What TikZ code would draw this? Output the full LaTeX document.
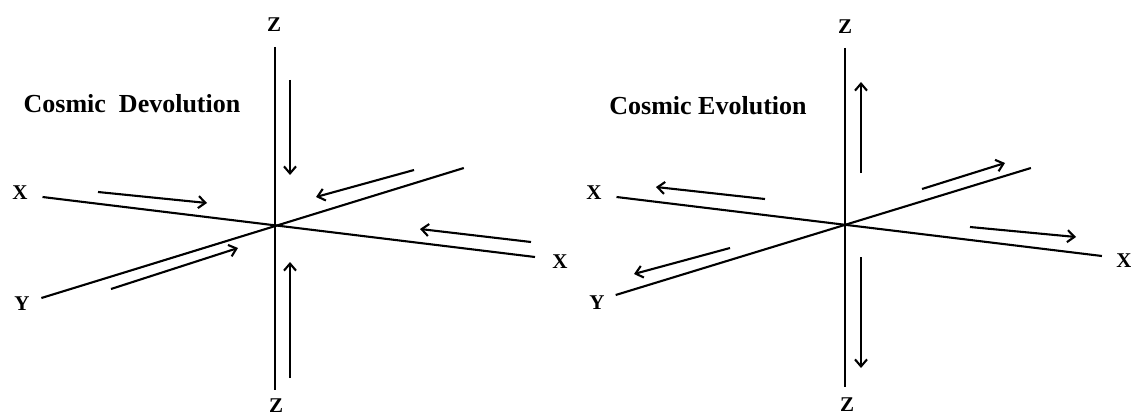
\documentclass[tikz,border=0pt]{standalone}
\usepackage{fontspec}
\setmainfont{Liberation Serif}
\usetikzlibrary{arrows.meta}

\begin{document}
\begin{tikzpicture}[x=1pt,y=-1pt,line width=2.1pt,>={Straight Barb[length=7pt,width=12pt]},
  axlbl/.style={inner sep=0pt,font=\fontsize{21}{21}\selectfont\bfseries},
  ttl/.style={font=\fontsize{26}{26}\selectfont\bfseries}]
\useasboundingbox (0,0) rectangle (1131,417);
\node[ttl] (devtitle) at (132,104) {Cosmic\ \ Devolution};
\node[axlbl] (dzt) at (274,25) {Z};
\node[axlbl] (dzb) at (276,406) {Z};
\node[axlbl] (dxl) at (20,193) {X};
\node[axlbl] (dxr) at (560,262) {X};
\node[axlbl] (dy) at (22,304) {Y};
\draw (274.6,47) -- (274.6,390);
\draw (42.5,197) -- (535,257);
\draw (41.4,298) -- (463.8,168);
\draw[->] (290,80) -- (290,175);
\draw[->] (290,378) -- (290,262);
\draw[->] (98,192) -- (207,203);
\draw[->] (531,242) -- (420,229);
\draw[->] (414,170) -- (316,197);
\draw[->] (111,289) -- (238,248);
\node[ttl] (evtitle) at (708,106) {Cosmic Evolution};
\node[axlbl] (ezt) at (845,27) {Z};
\node[axlbl] (ezb) at (847,405) {Z};
\node[axlbl] (exl) at (594,193) {X};
\node[axlbl] (exr) at (1124,261) {X};
\node[axlbl] (ey) at (597,303) {Y};
\draw (845.3,48) -- (845.3,387);
\draw (616.5,197) -- (1101.9,256);
\draw (615.7,295) -- (1030.9,168);
\draw[->] (861,173) -- (861,82);
\draw[->] (861,257) -- (861,368);
\draw[->] (765,199) -- (656,187);
\draw[->] (970,227) -- (1076,237);
\draw[->] (922,189) -- (1005,163);
\draw[->] (730,248) -- (634,274);
\end{tikzpicture}
\end{document}
